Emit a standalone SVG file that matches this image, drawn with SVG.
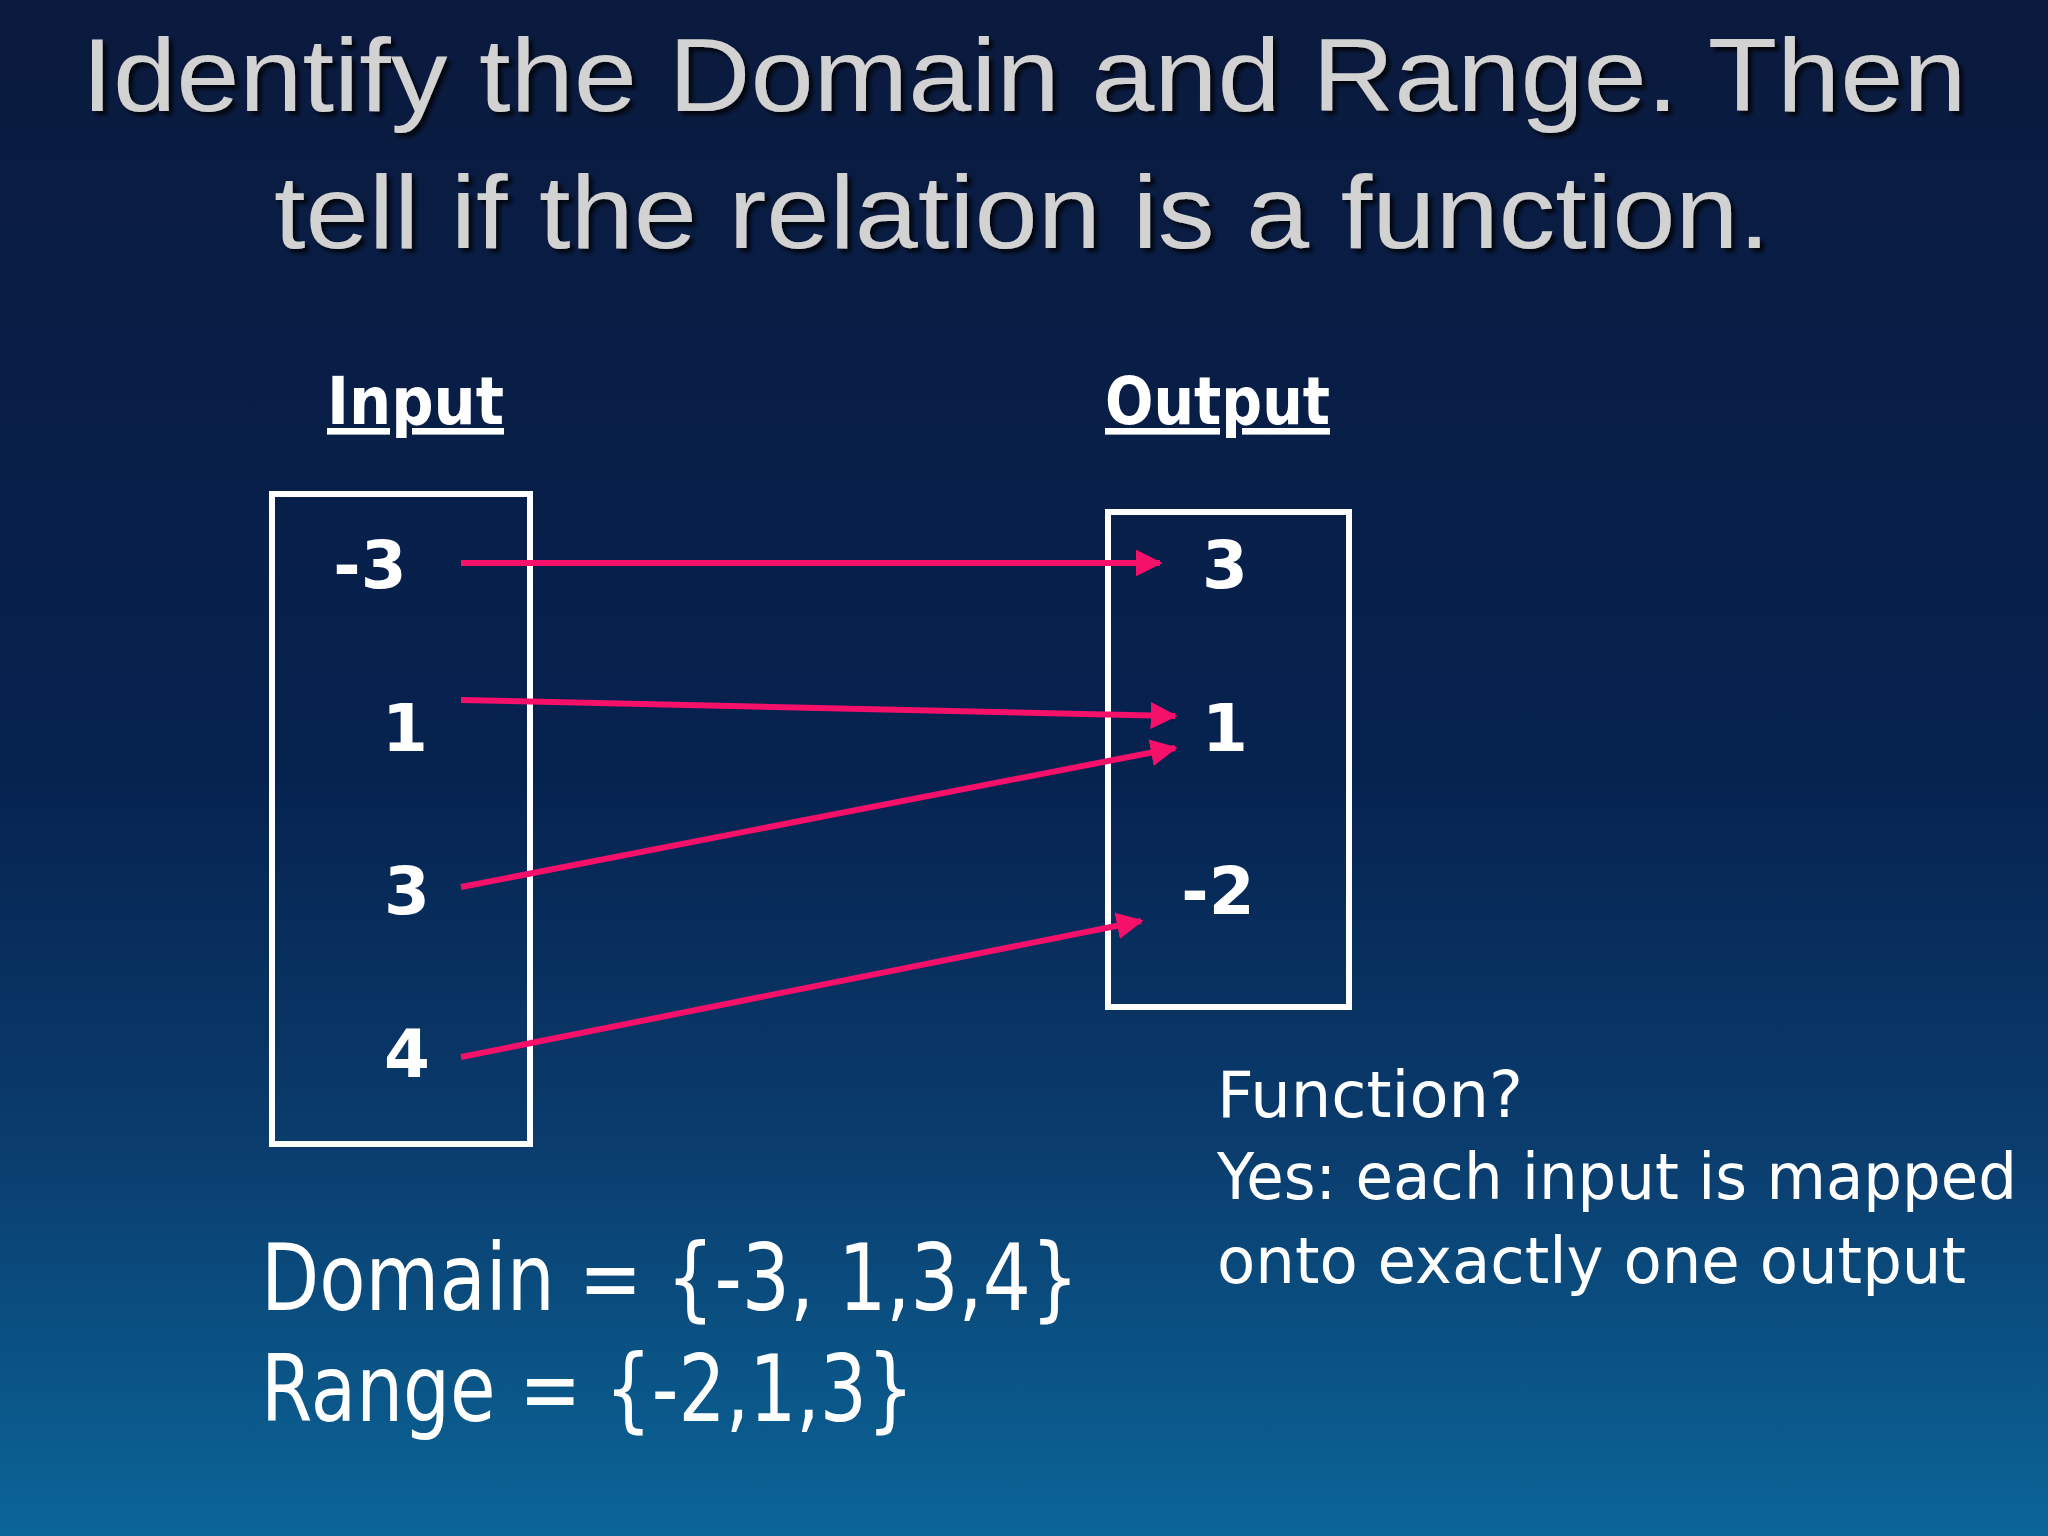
<svg xmlns="http://www.w3.org/2000/svg" width="2048" height="1536" viewBox="0 0 2048 1536">
<defs>
<linearGradient id="bg" x1="0" y1="0" x2="0" y2="1">
<stop offset="0" stop-color="#0b1a3e"/>
<stop offset="0.5" stop-color="#06224f"/>
<stop offset="0.75" stop-color="#0a3d6e"/>
<stop offset="1" stop-color="#0b6598"/>
</linearGradient>
<marker id="ah" viewBox="0 0 10 10" refX="9" refY="5" markerWidth="4.5" markerHeight="4.5" orient="auto" markerUnits="strokeWidth">
<path d="M0,0 L10,5 L0,10 z" fill="#f5106a"/>
</marker>
<filter id="sh"><feDropShadow dx="4" dy="4" stdDeviation="2" flood-color="#000" flood-opacity="0.8"/></filter>
</defs>
<style>
.title{font-family:"Liberation Sans",Arial,sans-serif;font-size:104px;fill:#d2d2d2;text-anchor:middle;filter:url(#sh)}
.hw{font-family:"DejaVu Sans",sans-serif;fill:#fff}
.lbl{font-size:66px;font-weight:bold;text-decoration:underline}
.num{font-size:66px;font-weight:bold;text-anchor:middle}
.box{fill:none;stroke:#fff;stroke-width:6}
.arr{stroke:#f5106a;stroke-width:6;fill:none;marker-end:url(#ah)}
</style>
<rect width="2048" height="1536" fill="url(#bg)"/>
<g id="title">
<text class="title" x="1024" y="111" textLength="1885" lengthAdjust="spacingAndGlyphs">Identify the Domain and Range. Then</text>
<text class="title" x="1022" y="248" textLength="1496" lengthAdjust="spacingAndGlyphs">tell if the relation is a function.</text>
</g>
<g id="input">
<text class="hw lbl" x="327" y="424" textLength="177" lengthAdjust="spacingAndGlyphs">Input</text>
<rect class="box" x="272" y="494" width="258" height="650"/>
<text class="hw num" x="370" y="588">-3</text>
<text class="hw num" x="405" y="751">1</text>
<text class="hw num" x="407" y="914">3</text>
<text class="hw num" x="407" y="1077">4</text>
</g>
<g id="output">
<text class="hw lbl" x="1105" y="424" textLength="225" lengthAdjust="spacingAndGlyphs">Output</text>
<rect class="box" x="1108" y="512" width="241" height="495"/>
<text class="hw num" x="1225" y="588">3</text>
<text class="hw num" x="1225" y="751">1</text>
<text class="hw num" x="1218" y="914">-2</text>
</g>
<g id="connectors">
<line class="arr" x1="461" y1="563" x2="1160" y2="563"/>
<line class="arr" x1="461" y1="700" x2="1175" y2="716"/>
<line class="arr" x1="461" y1="887" x2="1175" y2="748"/>
<line class="arr" x1="461" y1="1057" x2="1141" y2="921"/>
</g>
<g id="answer">
<text class="hw" x="1217" y="1117" font-size="64" textLength="306" lengthAdjust="spacingAndGlyphs">Function?</text>
<text class="hw" x="1217" y="1199" font-size="64" textLength="800" lengthAdjust="spacingAndGlyphs">Yes: each input is mapped</text>
<text class="hw" x="1217" y="1283" font-size="64" textLength="749" lengthAdjust="spacingAndGlyphs">onto exactly one output</text>
</g>
<g id="sets">
<text class="hw" x="261" y="1310" font-size="92" textLength="818" lengthAdjust="spacingAndGlyphs">Domain = {-3, 1,3,4}</text>
<text class="hw" x="261" y="1421" font-size="92" textLength="653" lengthAdjust="spacingAndGlyphs">Range = {-2,1,3}</text>
</g>
</svg>
